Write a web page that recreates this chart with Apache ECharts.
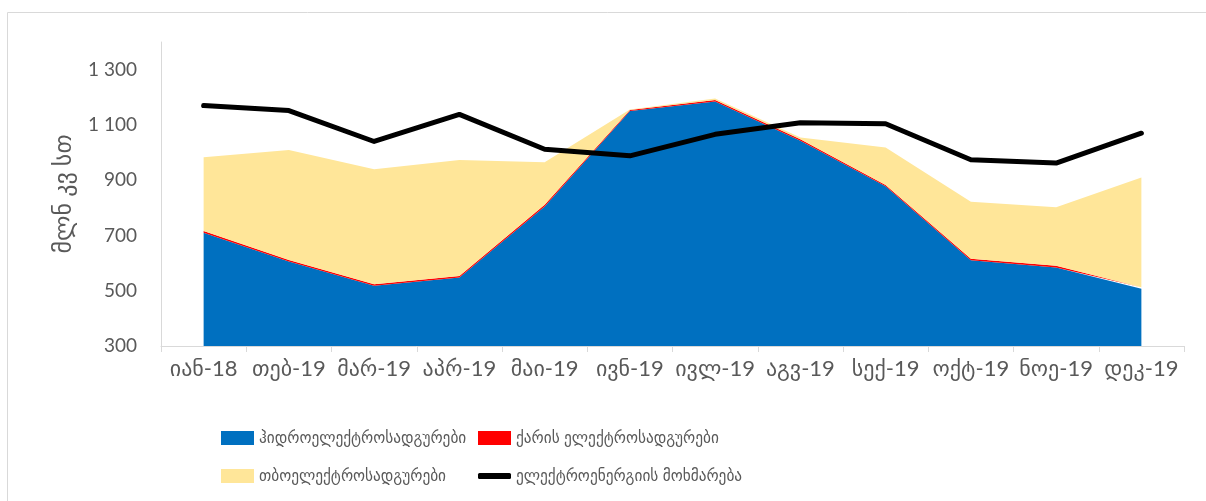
<!DOCTYPE html>
<html>
<head>
<meta charset="utf-8">
<script src="https://cdn.jsdelivr.net/npm/echarts@6/dist/echarts.min.js"></script>
<style>
  html, body { margin: 0; padding: 0; background: #fff; }
  #chart { width: 1206px; height: 501px; }
</style>
</head>
<body>
<div id="chart"></div>
<script>
const months = ['იან-18', 'თებ-19', 'მარ-19', 'აპრ-19', 'მაი-19', 'ივნ-19', 'ივლ-19', 'აგვ-19', 'სექ-19', 'ოქტ-19', 'ნოე-19', 'დეკ-19']
const hydro = [710, 606, 518, 548, 805, 1150, 1185, 1043, 878, 610, 584, 507]
const wind = [6, 5, 5, 5, 6, 4, 5, 5, 5, 6, 6, 6]
const thermal = [267, 398, 417, 420, 154, 2, 6, 6, 135, 206, 212, 397]
const consumption = [1170, 1152, 1040, 1138, 1012, 988, 1066, 1108, 1104, 974, 962, 1070]

const seriesNames = ['ჰიდროელექტროსადგურები', 'ქარის ელექტროსადგურები', 'თბოელექტროსადგურები', 'ელექტროენერგიის მოხმარება']

const font = 'Lato, "DejaVu Sans", sans-serif'
const fontNarrow = 'Lato, "DejaVu Sans Condensed", sans-serif'
const gray = '#595959'

const chart = echarts.init(document.getElementById('chart'))

const legendBase = {
  itemWidth: 33,
  itemHeight: 14,
  itemGap: 5,
  icon: 'rect',
  textStyle: { color: gray, fontSize: 17, fontFamily: fontNarrow, lineHeight: 20 },
  selectedMode: false
}

const areaSeries = (name, data, color) => ({
  name: name,
  type: 'line',
  stack: 'gen',
  data: data,
  symbol: 'none',
  lineStyle: { width: 0 },
  itemStyle: { color: color },
  areaStyle: { color: color, opacity: 1 }
})

const option = {
  animation: false,
  graphic: [
    {
      type: 'rect',
      shape: { x: 7.5, y: 12.5, width: 1300, height: 600 },
      style: { fill: 'none', stroke: '#d9d9d9', lineWidth: 1 }
    }
  ],
  grid: {
    left: 161,
    right: 22,
    top: 42,
    bottom: 155
  },
  legend: [
    Object.assign({}, legendBase, { data: [seriesNames[0]], left: 216, top: 423 }),
    Object.assign({}, legendBase, { data: [seriesNames[1]], left: 473, top: 423 }),
    Object.assign({}, legendBase, { data: [seriesNames[2]], left: 216, top: 461 }),
    Object.assign({}, legendBase, {
      data: [{ name: seriesNames[3], icon: 'roundRect' }],
      left: 473, top: 461, itemHeight: 6
    })
  ],
  xAxis: {
    type: 'category',
    data: months,
    boundaryGap: true,
    axisLine: { lineStyle: { color: '#d9d9d9', width: 1 } },
    axisTick: { show: true, length: 6, lineStyle: { color: '#d9d9d9' } },
    axisLabel: { color: gray, fontSize: 22, fontFamily: font, margin: 12, interval: 0 }
  },
  yAxis: {
    type: 'value',
    min: 300,
    max: 1400,
    interval: 100,
    name: 'მლნ კვ სთ',
    nameLocation: 'middle',
    nameRotate: 90,
    nameGap: 86,
    nameTextStyle: { color: gray, fontSize: 24, fontFamily: font },
    axisLine: { show: true, lineStyle: { color: '#d9d9d9', width: 1 } },
    axisTick: { show: false },
    splitLine: { show: false },
    axisLabel: {
      color: gray,
      fontSize: 19,
      fontFamily: font,
      margin: 24,
      formatter: v => {
        if ((v - 300) % 200 !== 0 || v > 1300) return ''
        return v >= 1000 ? Math.floor(v / 1000) + ' ' + String(v % 1000).padStart(3, '0') : String(v)
      }
    }
  },
  series: [
    areaSeries(seriesNames[0], hydro, '#0070C0'),
    areaSeries(seriesNames[1], wind, '#FF0000'),
    areaSeries(seriesNames[2], thermal, '#FFE699'),
    {
      name: seriesNames[3],
      type: 'line',
      data: consumption,
      symbol: 'none',
      lineStyle: { color: '#000', width: 5, cap: 'round', join: 'round' },
      itemStyle: { color: '#000' },
      z: 5
    }
  ]
}

chart.setOption(option)
</script>
</body>
</html>
